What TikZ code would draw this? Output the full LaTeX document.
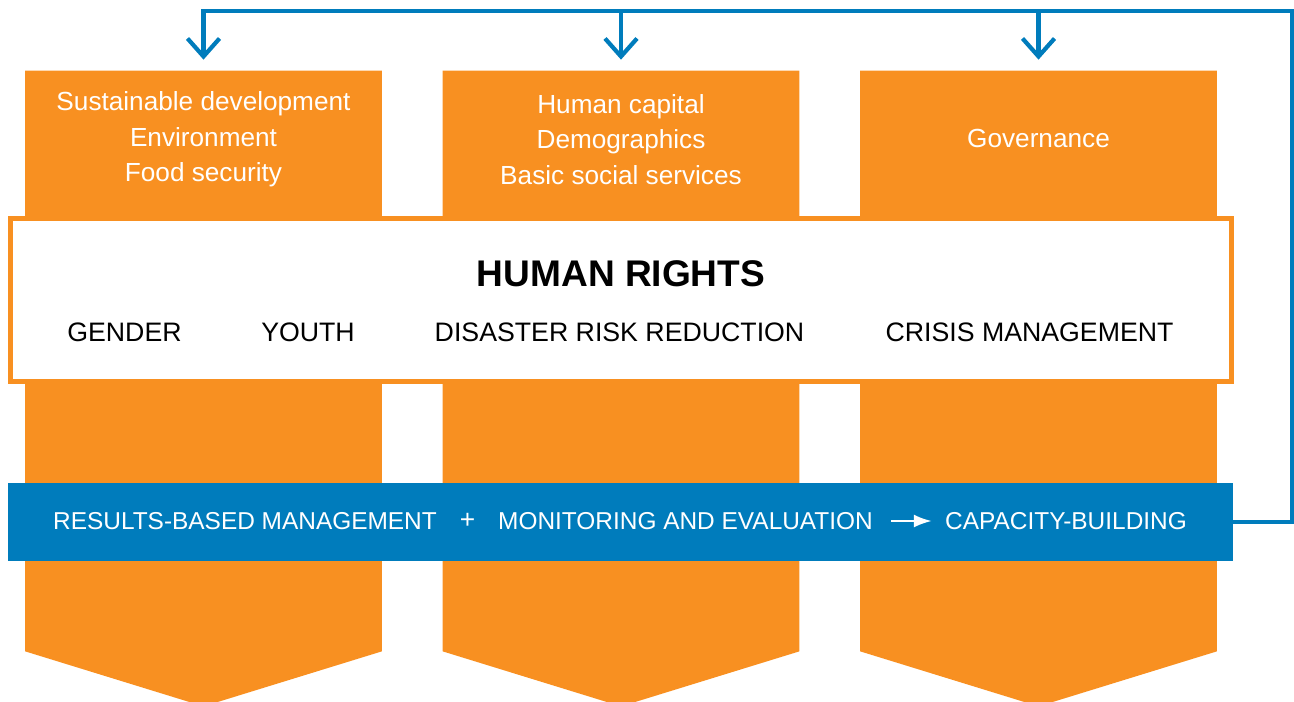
\documentclass[tikz,border=0pt]{standalone}
\usepackage{fontspec}
\setmainfont{Liberation Sans}
\usetikzlibrary{arrows.meta, calc, positioning}

\definecolor{pillarorange}{RGB}{248,144,33}
\definecolor{loopblue}{RGB}{0,124,188}

\tikzset{
  pillar/.style={minimum width=71.2mm, minimum height=116mm, inner sep=0pt},
  theme/.style={text=white, align=center, font=\fontsize{14.9}{20.3}\selectfont},
  crosscut/.style={font=\fontsize{15.2}{18}\selectfont},
  method/.style={text=white, inner sep=0pt, font=\fontsize{13.9}{16}\selectfont},
  feedback/.style={draw=loopblue, line width=2.4pt},
  drop/.style={feedback, -{Straight Barb[length=3.6mm, width=6.4mm]}, shorten >=2.2mm},
}

\begin{document}
\begin{tikzpicture}[x=0.2mm, y=-0.2mm]
  \useasboundingbox (0,0) rectangle (1294,701);

  % pillars with pointed feet
  \foreach \i/\x in {1/203.5, 2/621, 3/1038.5} {
    \node[pillar] (col\i) at (\x, 361) {};
    \fill[pillarorange] (col\i.north west) -- (col\i.north east)
      -- (col\i.south east) -- ($(col\i.south)+(0,55)$)
      -- (col\i.south west) -- cycle;
  }

  % bands across the pillars
  \node[draw=pillarorange, line width=2.8pt, fill=white,
    minimum width=244.2mm, minimum height=32.6mm] (hr) at (621, 300) {};
  \node[fill=loopblue, inner sep=0pt,
    minimum width=245mm, minimum height=15.6mm] (rbm) at (620.5, 522) {};

  % pillar themes
  \node[theme] (t1) at (203.5, 139.5) {Sustainable development\\Environment\\Food security};
  \node[theme] (t2) at (621, 139.5) {Human capital\\Demographics\\Basic social services};
  \node[theme] (t3) at (1038.5, 138.5) {Governance};

  \node[font=\bfseries\fontsize{21.1}{24}\selectfont] (rights) at (621, 273.5) {HUMAN RIGHTS};
  \node[crosscut] (gender) at (124.5, 332.5) {GENDER};
  \node[crosscut] (youth) at (308, 332.5) {YOUTH};
  \node[crosscut] (drr) at (619.5, 332.5) {DISASTER RISK REDUCTION};
  \node[crosscut] (crisis) at (1029.5, 332.5) {CRISIS MANAGEMENT};

  \node[method] (results) at (245, 521) {RESULTS-BASED MANAGEMENT};
  \node[method] (plus) at (467.5, 520.5) {\fontsize{15}{16}\selectfont +};
  \node[method] (monitor) at (685.5, 521) {MONITORING AND EVALUATION};
  \node[method] (capacity) at (1066, 521) {CAPACITY-BUILDING};
  \draw[white, line width=1.4pt, -{Latex[length=3.6mm, width=2.6mm]},
    shorten <=3.6mm, shorten >=2.6mm] (monitor) -- (capacity);

  % loop back to the pillars
  \coordinate (turn) at (1292, 11);
  \coordinate (tap2) at (col2.north |- turn);
  \coordinate (tap3) at (col3.north |- turn);
  \draw[drop] (rbm.east) -| (turn) -| (col1.north);
  \draw[drop] (tap2) -- (col2.north);
  \draw[drop] (tap3) -- (col3.north);
\end{tikzpicture}
\end{document}
